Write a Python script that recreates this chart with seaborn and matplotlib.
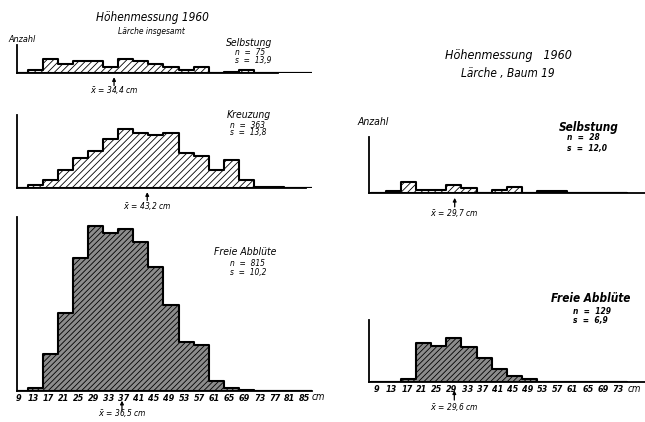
import numpy as np
import pandas as pd
import matplotlib
matplotlib.use("Agg")
import matplotlib.pyplot as plt
import seaborn as sns

# Hoehenklassen in cm (wie beschriftet)
classes_left = [9, 13, 17, 21, 25, 29, 33, 37, 41, 45, 49, 53, 57, 61, 65, 69, 73, 77, 81, 85]
classes_right = [9, 13, 17, 21, 25, 29, 33, 37, 41, 45, 49, 53, 57, 61, 65, 69, 73]

# Larche insgesamt
selbst_all = [0, 2, 10, 6, 8, 8, 4, 10, 8, 6, 4, 2, 4, 0, 1, 2, 0, 0, 0, 0]
kreuz_all = [0, 2, 6, 13, 22, 27, 36, 44, 41, 39, 41, 26, 24, 13, 21, 6, 1, 1, 0, 0]
frei_all = [0, 2, 25, 53, 90, 112, 107, 110, 101, 84, 58, 33, 31, 7, 2, 1, 0, 0, 0, 0]

# Larche, Baum 19
selbst_19 = [0, 1, 7, 2, 2, 5, 3, 0, 2, 4, 0, 1, 1, 0, 0, 0, 0]
frei_19 = [0, 0, 2, 25, 23, 28, 22, 15, 8, 4, 2, 0, 0, 0, 0, 0, 0]

names = ["Selbstung", "Kreuzung", "Freie Abblüte", "Selbstung", "Freie Abblüte"]
n_values = [75, 363, 815, 28, 129]
s_values = ["13,9", "13,8", "10,2", "12,0", "6,9"]
means = [34.4, 43.2, 36.5, 29.7, 29.6]
mean_labels = ["34,4", "43,2", "36,5", "29,7", "29,6"]

W, H = 645, 422
sns.set_style("white")
plt.rcParams["hatch.color"] = "black"
plt.rcParams["hatch.linewidth"] = 0.6
plt.rcParams["text.color"] = "black"
plt.rcParams["xtick.color"] = "black"
FONT = dict(family="DejaVu Sans", style="italic", stretch="condensed")

fig = plt.figure(figsize=(W / 100, H / 100), dpi=100)


def ftext(x, y, s, size, ha="center", weight="normal"):
    # place text by pixel position in the figure
    fig.text(x / W, 1 - y / H, s, fontsize=size, ha=ha, va="center",
             weight=weight, **FONT)


def panel(box, classes, counts, ymax, dark, xlim, spine_end):
    l, t, r, b = box
    ax = fig.add_axes([l / W, 1 - b / H, (r - l) / W, (b - t) / H])
    df = pd.DataFrame({"cm": classes, "anzahl": counts})
    edges = [c - 1.5 for c in classes] + [classes[-1] + 2.5]
    sns.histplot(data=df, x="cm", weights="anzahl", bins=edges, element="step", fill=True,
                 facecolor="#8c8c8c" if dark else "white", edgecolor="black",
                 linewidth=1.5, hatch="//////" if dark else "/////", alpha=1, ax=ax)
    ax.set_xlim(xlim)
    ax.set_ylim(0, ymax)
    sns.despine(ax=ax)
    for side in ["left", "bottom"]:
        ax.spines[side].set_color("black")
        ax.spines[side].set_linewidth(1.3)
    ax.spines["bottom"].set_bounds(xlim[0], spine_end)
    ax.set_xticks([])
    ax.set_yticks([])
    ax.set_xlabel("")
    ax.set_ylabel("")
    ax.patch.set_alpha(0)
    return ax


xl = (8.66, 86.9)
xr = (6.96, 80.2)
axes = [
    panel((17, 45, 312, 73), classes_left, selbst_all, 19.4, False, xl, 78),
    panel((17, 115, 312, 188), classes_left, kreuz_all, 54, False, xl, 85.3),
    panel((17, 217, 312, 391), classes_left, frei_all, 118, True, xl, 86.9),
    panel((369, 137, 645, 193), classes_right, selbst_19, 37.3, False, xr, 80.2),
    panel((369, 320, 645, 382), classes_right, frei_19, 39.5, True, xr, 80.2),
]

# x axis labels only on the lower panels
for ax, classes in [(axes[2], classes_left), (axes[4], classes_right)]:
    ax.set_xticks(classes)
    ax.set_xticklabels([str(c) for c in classes], fontsize=6.5, weight="bold", **FONT)
    ax.tick_params(axis="x", length=0, pad=2)
ftext(318, 397, "cm", 7)
ftext(634, 389, "cm", 7)

# mean arrows (offsets in points: tip, tail, text)
offsets = [(3, 9, 12), (3, 9, 13), (7, 14, 16), (3.5, 10, 14.5), (6, 13, 18)]
for ax, m, lab, (tip, tail, txt) in zip(axes, means, mean_labels, offsets):
    trans = ax.get_xaxis_transform()
    ax.annotate("", xy=(m, 0), xycoords=trans,
                xytext=(0, -tail), textcoords="offset points",
                arrowprops=dict(arrowstyle="-|>", color="black", lw=0.9,
                                mutation_scale=5, shrinkA=0, shrinkB=tip),
                annotation_clip=False)
    ax.annotate(r"$\bar{x}$ = " + lab + " cm", xy=(m, 0), xycoords=trans,
                xytext=(0, -txt), textcoords="offset points",
                ha="center", va="center", fontsize=6, annotation_clip=False, **FONT)

# titles and labels
ftext(152, 17, "Höhenmessung 1960", 8.5)
ftext(151, 32, "Lärche insgesamt", 6)
ftext(22, 39, "Anzahl", 6.5)
ftext(508, 55, "Höhenmessung   1960", 9)
ftext(508, 73, "Lärche , Baum 19", 8.5)
ftext(373, 122, "Anzahl", 7.5)

# group labels with n and s
label_pos = [(249, 43, 235, 52.5, 61), (249, 115, 230, 125, 133),
             (245, 252, 230, 264, 272), (589, 127, 567, 138, 148),
             (591, 298, 573, 311, 320)]
for i, (cx, cy, lx, ny, sy) in enumerate(label_pos):
    right = i >= 3
    wt = "bold" if right else "normal"
    ftext(cx, cy, names[i], 8.5 if right else 7.5, weight=wt)
    ftext(lx, ny, "n  =  " + str(n_values[i]), 6, ha="left", weight=wt)
    ftext(lx, sy, "s  =  " + s_values[i], 6, ha="left", weight=wt)

fig.savefig("out.png", dpi=100)
